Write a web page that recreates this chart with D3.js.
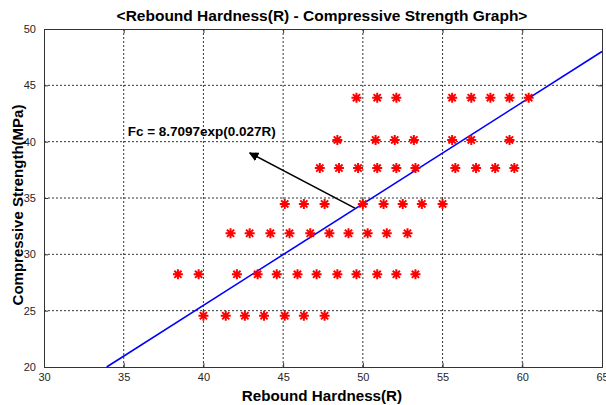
<!DOCTYPE html>
<html>
<head>
<meta charset="utf-8">
<script src="https://cdn.jsdelivr.net/npm/d3@7"></script>
<style>
body { margin: 0; background: #fff; }
.tick text { font-family: "Liberation Sans", Arial, sans-serif; font-size: 11px; fill: #262626; }
.grid line { stroke: #000; stroke-dasharray: 2,2; stroke-width: 0.8; }
</style>
</head>
<body>
<svg class="chartsvg" width="606" height="405"></svg>
<script>
// measured data, one row per strength level
var strengthLevels = [43.9, 40.15, 37.66, 34.47, 31.87, 28.23, 24.55];
var hardness1 = [49.6, 50.9, 52.1, 55.6, 56.8, 58.0, 59.2, 60.4];
var hardness2 = [48.4, 50.8, 52.0, 53.2, 55.6, 56.8, 59.2];
var hardness3 = [47.3, 48.5, 49.7, 50.9, 52.1, 53.3, 55.8, 57.1, 58.3, 59.5];
var hardness4 = [45.1, 46.3, 47.6, 50.0, 51.3, 52.5, 53.7, 55.0];
var hardness5 = [41.7, 42.9, 44.2, 45.4, 46.7, 47.9, 49.1, 50.3, 51.5, 52.8];
var hardness6 = [38.4, 39.7, 42.1, 43.4, 44.6, 45.9, 47.1, 48.4, 49.6, 50.9, 52.1, 53.3];
var hardness7 = [40.0, 41.4, 42.6, 43.8, 45.1, 46.3, 47.6];
var hardnessRows = [hardness1, hardness2, hardness3, hardness4, hardness5, hardness6, hardness7];

var fitR = [33.93, 65];
var fitFc = [20, 48];

var arrowR = [49.5, 42.9];
var arrowFc = [34.1, 39.0];
var labelR = 35.25, labelFc = 40.95;

var xTicks = [30, 35, 40, 45, 50, 55, 60, 65];
var yTicks = [20, 25, 30, 35, 40, 45, 50];

var margin = {top: 29, right: 4, bottom: 38, left: 44};
var width = 606 - margin.left - margin.right;
var height = 405 - margin.top - margin.bottom;

var svg = d3.select(".chartsvg");
var g = svg.append("g")
    .attr("transform", "translate(" + margin.left + "," + margin.top + ")");

var x = d3.scaleLinear().domain([30, 65]).range([0, width]);
var y = d3.scaleLinear().domain([20, 50]).range([height, 0]);

// grid
g.append("g")
    .attr("class", "grid")
    .selectAll("line")
    .data(xTicks.slice(1, -1))
    .enter().append("line")
    .attr("x1", function(d) { return x(d); })
    .attr("x2", function(d) { return x(d); })
    .attr("y1", 0)
    .attr("y2", height);
g.append("g")
    .attr("class", "grid")
    .selectAll("line")
    .data(yTicks.slice(1, -1))
    .enter().append("line")
    .attr("x1", 0)
    .attr("x2", width)
    .attr("y1", function(d) { return y(d); })
    .attr("y2", function(d) { return y(d); });

// axes
g.append("g")
    .attr("transform", "translate(0," + height + ")")
    .call(d3.axisBottom(x).tickValues(xTicks).tickSize(-4).tickPadding(6));
g.append("g")
    .call(d3.axisLeft(y).tickValues(yTicks).tickSize(-4).tickPadding(8));
g.append("g")
    .attr("transform", "translate(" + width + ",0)")
    .call(d3.axisRight(y).tickValues(yTicks).tickSize(-4).tickFormat(""));
g.append("g")
    .call(d3.axisTop(x).tickValues(xTicks).tickSize(-4).tickFormat(""));
g.selectAll(".domain").attr("stroke", "#333");
g.selectAll(".tick line").attr("stroke", "#333");

// fitted line
var line = d3.line()
    .x(function(d) { return x(d[0]); })
    .y(function(d) { return y(d[1]); });
g.append("path")
    .datum(d3.zip(fitR, fitFc))
    .attr("d", line)
    .attr("fill", "none")
    .attr("stroke", "#0000ff")
    .attr("stroke-width", 1.6);

// asterisk markers
function asterisk(px, py) {
    var r = 5, s = r * 0.72;
    return "M" + (px - r) + "," + py + "L" + (px + r) + "," + py +
        "M" + px + "," + (py - r) + "L" + px + "," + (py + r) +
        "M" + (px - s) + "," + (py - s) + "L" + (px + s) + "," + (py + s) +
        "M" + (px - s) + "," + (py + s) + "L" + (px + s) + "," + (py - s);
}
var points = [];
hardnessRows.forEach(function(row, i) {
    row.forEach(function(r) { points.push([r, strengthLevels[i]]); });
});
g.append("g")
    .selectAll("path")
    .data(points)
    .enter().append("path")
    .attr("d", function(d) { return asterisk(x(d[0]), y(d[1])); })
    .attr("stroke", "#ff0000")
    .attr("stroke-width", 2)
    .attr("fill", "none");

// annotation arrow
svg.append("defs").append("marker")
    .attr("id", "head")
    .attr("viewBox", "0 0 10 10")
    .attr("refX", 9).attr("refY", 5)
    .attr("markerWidth", 6).attr("markerHeight", 6)
    .attr("orient", "auto")
    .append("path")
    .attr("d", "M0,0L10,5L0,10z")
    .attr("fill", "#000");
g.append("path")
    .datum(d3.zip(arrowR, arrowFc))
    .attr("d", line)
    .attr("stroke", "#000")
    .attr("stroke-width", 1.6)
    .attr("marker-end", "url(#head)");
g.append("text")
    .attr("x", x(labelR))
    .attr("y", y(labelFc))
    .attr("dy", ".35em")
    .attr("textLength", 148)
    .attr("lengthAdjust", "spacingAndGlyphs")
    .style("font-family", "Liberation Sans, Arial, sans-serif")
    .style("font-size", "13px")
    .style("font-weight", "bold")
    .text("Fc = 8.7097exp(0.027R)");

// titles
svg.append("text")
    .attr("x", 322)
    .attr("y", 21)
    .style("text-anchor", "middle")
    .style("font-family", "Liberation Sans, Arial, sans-serif")
    .style("font-size", "15.5px")
    .style("font-weight", "bold")
    .text("<Rebound Hardness(R) - Compressive Strength Graph>");
svg.append("text")
    .attr("x", 322)
    .attr("y", 401)
    .style("text-anchor", "middle")
    .style("font-family", "Liberation Sans, Arial, sans-serif")
    .style("font-size", "15.2px")
    .style("font-weight", "bold")
    .text("Rebound Hardness(R)");
svg.append("text")
    .attr("transform", "translate(23,205) rotate(-90)")
    .style("text-anchor", "middle")
    .style("font-family", "Liberation Sans, Arial, sans-serif")
    .style("font-size", "15px")
    .style("font-weight", "bold")
    .text("Compressive Strength(MPa)");
</script>
</body>
</html>
